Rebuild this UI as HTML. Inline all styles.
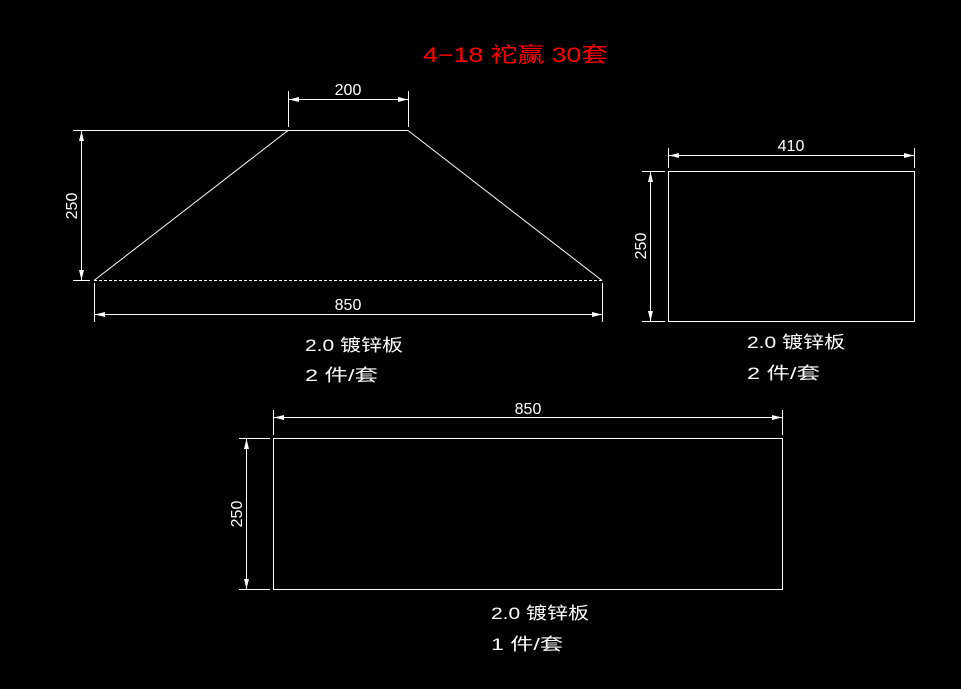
<!DOCTYPE html>
<html><head><meta charset="utf-8"><style>
html,body{margin:0;padding:0;background:#000;width:961px;height:689px;overflow:hidden}
text{font-family:"Liberation Sans","Noto Sans CJK SC",sans-serif;fill:#fff}
</style></head><body>
<svg width="961" height="689" viewBox="0 0 961 689" xmlns="http://www.w3.org/2000/svg">
<defs>
<marker id="a" viewBox="0 0 10 5" refX="10" refY="2.5" markerWidth="10" markerHeight="5" markerUnits="userSpaceOnUse" orient="auto-start-reverse"><path d="M0,0 L10,2.5 L0,5z" fill="#fff"/></marker>
</defs>
<g stroke="#fff" stroke-width="1" fill="none">
<line x1="288" y1="130.5" x2="408" y2="130.5"/>
<line x1="288" y1="130.5" x2="94" y2="280.5"/>
<line x1="408" y1="130.5" x2="602" y2="280.5"/>
<line x1="94" y1="280.5" x2="602" y2="280.5" stroke-dasharray="3,2"/>
<line x1="73" y1="130.5" x2="288" y2="130.5"/>
<line x1="73" y1="280.5" x2="90" y2="280.5"/>
<line x1="81.5" y1="131" x2="81.5" y2="280" marker-start="url(#a)" marker-end="url(#a)"/>
<line x1="288.5" y1="91" x2="288.5" y2="127"/>
<line x1="408.5" y1="91" x2="408.5" y2="127"/>
<line x1="289" y1="99.5" x2="408" y2="99.5" marker-start="url(#a)" marker-end="url(#a)"/>
<line x1="94.5" y1="283" x2="94.5" y2="322"/>
<line x1="602.5" y1="283" x2="602.5" y2="322"/>
<line x1="95" y1="314.5" x2="602" y2="314.5" marker-start="url(#a)" marker-end="url(#a)"/>
<rect x="668.5" y="171.5" width="246" height="150"/>
<line x1="668.5" y1="148" x2="668.5" y2="168"/>
<line x1="914.5" y1="148" x2="914.5" y2="168"/>
<line x1="669" y1="155.5" x2="914" y2="155.5" marker-start="url(#a)" marker-end="url(#a)"/>
<line x1="642" y1="171.5" x2="665" y2="171.5"/>
<line x1="642" y1="321.5" x2="665" y2="321.5"/>
<line x1="650.5" y1="172" x2="650.5" y2="321" marker-start="url(#a)" marker-end="url(#a)"/>
<rect x="273.5" y="438.5" width="509" height="151"/>
<line x1="273.5" y1="410" x2="273.5" y2="435"/>
<line x1="782.5" y1="410" x2="782.5" y2="435"/>
<line x1="274" y1="417.5" x2="782" y2="417.5" marker-start="url(#a)" marker-end="url(#a)"/>
<line x1="239" y1="438.5" x2="270" y2="438.5"/>
<line x1="239" y1="589.5" x2="270" y2="589.5"/>
<line x1="246.5" y1="439" x2="246.5" y2="589" marker-start="url(#a)" marker-end="url(#a)"/>
</g>
<text x="423" y="62" font-size="21" style="fill:#f00;font-weight:normal" textLength="185" lengthAdjust="spacingAndGlyphs">4−18 袉赢 30套</text>
<text x="348" y="95" font-size="16" text-anchor="middle">200</text>
<text x="348" y="310" font-size="16" text-anchor="middle">850</text>
<text x="791" y="151" font-size="16" text-anchor="middle">410</text>
<text x="528" y="414" font-size="16" text-anchor="middle">850</text>
<text transform="translate(77,206) rotate(-90)" font-size="16" text-anchor="middle">250</text>
<text transform="translate(646,246) rotate(-90)" font-size="16" text-anchor="middle">250</text>
<text transform="translate(242,514) rotate(-90)" font-size="16" text-anchor="middle">250</text>
<text x="305" y="351" font-size="17" textLength="98" lengthAdjust="spacingAndGlyphs">2.0 镀锌板</text>
<text x="305" y="381" font-size="17" textLength="73" lengthAdjust="spacingAndGlyphs">2 件/套</text>
<text x="747" y="348" font-size="17" textLength="98" lengthAdjust="spacingAndGlyphs">2.0 镀锌板</text>
<text x="747" y="379" font-size="17" textLength="73" lengthAdjust="spacingAndGlyphs">2 件/套</text>
<text x="491" y="619" font-size="17" textLength="98" lengthAdjust="spacingAndGlyphs">2.0 镀锌板</text>
<text x="491" y="650" font-size="17" textLength="72" lengthAdjust="spacingAndGlyphs">1 件/套</text>
</svg>
</body></html>
